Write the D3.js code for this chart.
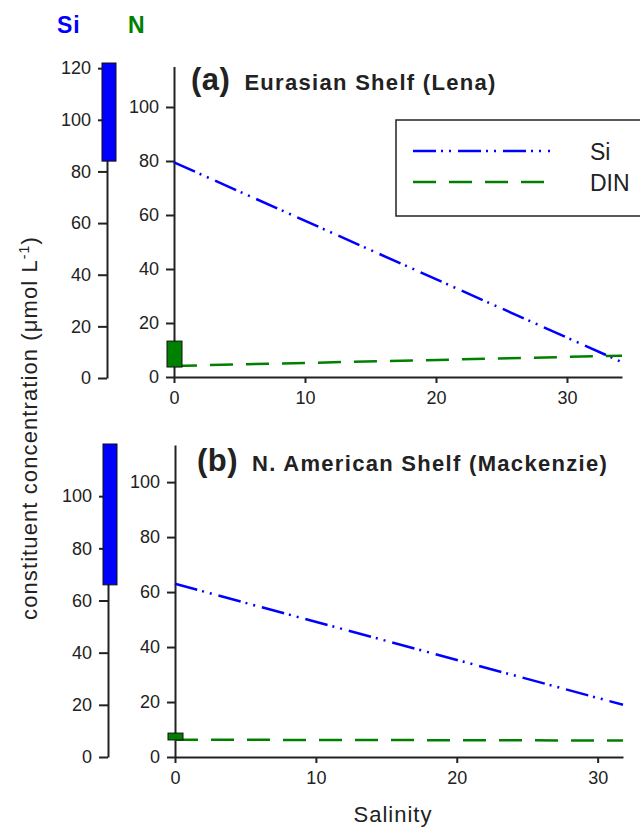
<!DOCTYPE html>
<html>
<head>
<meta charset="utf-8">
<script src="https://cdn.jsdelivr.net/npm/d3@7"></script>
<style>
  body { margin: 0; background: #fff; }
  svg text { font-family: "Liberation Sans", Arial, sans-serif; fill: #222; }
</style>
</head>
<body>
<div class="canvas"></div>
<script>
// panel (a) Eurasian Shelf (Lena)
const salinityA = [0, 34.2];
const siA = [79.5, 5.5];
const dinA = [4.1, 7.9];
const siRangeA = [84, 122];
const nRangeA = [3.7, 13.3];

// panel (b) N. American Shelf (Mackenzie)
const salinityB = [0, 31.8];
const siB = [63, 19];
const dinB = [6.3, 6.0];
const siRangeB = [66, 120];
const nRangeB = [6.2, 8.7];

const xTicks = [0, 10, 20, 30];
const yTicks = [0, 20, 40, 60, 80, 100];
const siTicksA = [0, 20, 40, 60, 80, 100, 120];
const siTicksB = [0, 20, 40, 60, 80, 100];

const BLUE = "#0000ff";
const GREEN = "#008000";

const svg = d3.select(".canvas").append("svg")
  .attr("width", 640)
  .attr("height", 830);

// header labels
svg.append("text").attr("x", 57).attr("y", 33)
  .style("font-size", "23px").style("font-weight", "bold").style("fill", BLUE)
  .style("letter-spacing", "1px")
  .text("Si");
svg.append("text").attr("x", 128).attr("y", 33)
  .style("font-size", "23px").style("font-weight", "bold").style("fill", GREEN)
  .text("N");

function styleAxis(g) {
  g.attr("font-size", null).attr("font-family", null);
  g.select(".domain").attr("stroke", "#222").attr("stroke-width", 2);
  g.selectAll(".tick line").attr("stroke", "#222").attr("stroke-width", 2);
  g.selectAll(".tick text").style("font-size", "18px").attr("fill", "#222");
}

function drawPanel(p) {
  const x = d3.scaleLinear().domain([0, p.salinity[1]]).range([p.x0, p.x1]);
  const y = d3.scaleLinear().domain([0, p.yMax]).range([p.y0, p.yTop]);
  const ySi = d3.scaleLinear().domain([0, p.siMax]).range([p.y0s, p.siTop]);

  // left Si axis
  const gs = svg.append("g").attr("transform", `translate(${p.sx},0)`)
    .call(d3.axisLeft(ySi).tickValues(p.siTicks).tickSize(9).tickSizeOuter(0).tickPadding(7));
  styleAxis(gs);

  svg.append("rect")
    .attr("x", p.sx - 5).attr("width", 14)
    .attr("y", ySi(p.siRange[1]))
    .attr("height", ySi(p.siRange[0]) - ySi(p.siRange[1]))
    .attr("fill", BLUE).attr("stroke", "#111").attr("stroke-width", 1);

  // main axes
  const gy = svg.append("g").attr("transform", `translate(${p.x0},0)`)
    .call(d3.axisLeft(y).tickValues(yTicks).tickSize(8).tickSizeOuter(0).tickPadding(7));
  styleAxis(gy);

  const gx = svg.append("g").attr("transform", `translate(0,${p.y0})`)
    .call(d3.axisBottom(x).tickValues(xTicks).tickSize(6).tickSizeOuter(0).tickPadding(8));
  styleAxis(gx);

  const line = d3.line().x((d, i) => x(p.salinity[i])).y(d => y(d));

  svg.append("path").datum(p.si)
    .attr("d", line).attr("fill", "none")
    .attr("stroke", BLUE).attr("stroke-width", 2.5)
    .attr("stroke-dasharray", "23 5 2 6 2 7");

  svg.append("path").datum(p.din)
    .attr("d", line).attr("fill", "none")
    .attr("stroke", GREEN).attr("stroke-width", 2.5)
    .attr("stroke-dasharray", "23 13");

  // N range bar at salinity 0
  svg.append("rect")
    .attr("x", x(0) - 7).attr("width", 15)
    .attr("y", y(p.nRange[1]))
    .attr("height", y(p.nRange[0]) - y(p.nRange[1]))
    .attr("fill", GREEN).attr("stroke", "#111").attr("stroke-width", 1);

  // title
  const t = svg.append("text").attr("x", p.tx).attr("y", p.ty)
    .style("font-weight", "bold");
  t.append("tspan").style("font-size", "31px").style("letter-spacing", "0.5px").text(p.tag);
  t.append("tspan").attr("dx", 14).style("font-size", "22px")
    .style("letter-spacing", "1.3px").text(p.title);
}

drawPanel({
  salinity: salinityA, si: siA, din: dinA, siRange: siRangeA, nRange: nRangeA,
  x0: 174, x1: 622, y0: 377, yTop: 66.5, yMax: 115,
  sx: 107, y0s: 378, siMax: 122, siTop: 63, siTicks: siTicksA,
  tag: "(a)", title: "Eurasian Shelf (Lena)", tx: 191, ty: 90
});

drawPanel({
  salinity: salinityB, si: siB, din: dinB, siRange: siRangeB, nRange: nRangeB,
  x0: 175, x1: 623, y0: 757, yTop: 445, yMax: 113.5,
  sx: 108, y0s: 757, siMax: 120, siTop: 444, siTicks: siTicksB,
  tag: "(b)", title: "N. American Shelf (Mackenzie)", tx: 197, ty: 471
});

// legend (panel a)
const legendItems = ["Si", "DIN"];
const legendColors = [BLUE, GREEN];
const legendDash = ["23 5 2 6 2 7", "23 13"];
const lg = svg.append("g");
lg.append("rect").attr("x", 396).attr("y", 120).attr("width", 260).attr("height", 96)
  .attr("fill", "#fff").attr("stroke", "#222").attr("stroke-width", 1.5);
legendItems.forEach((name, i) => {
  const yy = 151 + i * 31;
  lg.append("line").attr("x1", 413).attr("x2", 550).attr("y1", yy).attr("y2", yy)
    .attr("stroke", legendColors[i]).attr("stroke-width", 2.5)
    .attr("stroke-dasharray", legendDash[i]);
  lg.append("text").attr("x", 590).attr("y", yy + 9)
    .style("font-size", "23px").text(name);
});

// axis titles
svg.append("text").attr("x", 393).attr("y", 822)
  .attr("text-anchor", "middle").style("font-size", "22px")
  .style("letter-spacing", "1px").text("Salinity");

const yl = svg.append("text")
  .attr("transform", "translate(37,428) rotate(-90)")
  .attr("text-anchor", "middle").style("font-size", "22px")
  .style("letter-spacing", "1.1px");
yl.append("tspan").text("constituent concentration (\u03bcmol L");
yl.append("tspan").attr("dy", -8).style("font-size", "14px").text("-1");
yl.append("tspan").attr("dy", 8).text(")");
</script>
</body>
</html>
